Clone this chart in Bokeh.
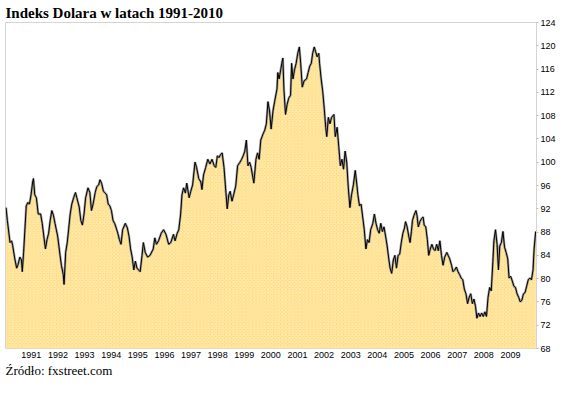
from bokeh.plotting import figure
from bokeh.models import FixedTicker, CustomJSTickFormatter, Title, Range1d
from bokeh.embed import file_html
from bokeh.resources import INLINE

# decimal year of each reading
T = [1990.55, 1990.60, 1990.70, 1990.76, 1990.80, 1990.88, 1990.95, 1991.00, 1991.07, 1991.13,
     1991.16, 1991.21, 1991.31, 1991.37, 1991.43, 1991.49, 1991.55, 1991.58, 1991.63, 1991.69,
     1991.76, 1991.85, 1991.91, 1991.97, 1992.03, 1992.09, 1992.15, 1992.21, 1992.27, 1992.33,
     1992.39, 1992.49, 1992.58, 1992.63, 1992.70, 1992.73, 1992.79, 1992.85, 1992.90, 1992.96,
     1993.02, 1993.09, 1993.16, 1993.21, 1993.30, 1993.36, 1993.42, 1993.48, 1993.54, 1993.63,
     1993.70, 1993.76, 1993.82, 1993.90, 1993.96, 1994.03, 1994.08, 1994.14, 1994.21, 1994.26,
     1994.33, 1994.39, 1994.45, 1994.51, 1994.57, 1994.63, 1994.69, 1994.75, 1994.81, 1994.87,
     1994.93, 1995.03, 1995.11, 1995.17, 1995.23, 1995.29, 1995.35, 1995.41, 1995.47, 1995.53,
     1995.59, 1995.66, 1995.71, 1995.78, 1995.87, 1995.96, 1996.08, 1996.14, 1996.20, 1996.28,
     1996.38, 1996.47, 1996.56, 1996.66, 1996.74, 1996.84, 1996.90, 1996.98, 1997.04, 1997.11,
     1997.16, 1997.22, 1997.29, 1997.34, 1997.43, 1997.49, 1997.56, 1997.65, 1997.71, 1997.79,
     1997.87, 1997.91, 1997.97, 1998.05, 1998.13, 1998.21, 1998.29, 1998.37, 1998.43, 1998.49,
     1998.55, 1998.61, 1998.67, 1998.74, 1998.79, 1998.86, 1998.92, 1998.97, 1999.04, 1999.10,
     1999.18, 1999.25, 1999.34, 1999.40, 1999.46, 1999.52, 1999.58, 1999.64, 1999.70, 1999.76,
     1999.86, 1999.94, 2000.00, 2000.06, 2000.12, 2000.21, 2000.27, 2000.33, 2000.39, 2000.45,
     2000.51, 2000.58, 2000.64, 2000.73, 2000.76, 2000.81, 2000.87, 2000.91, 2000.95, 2000.99,
     2001.05, 2001.11, 2001.17, 2001.24, 2001.28, 2001.33, 2001.39, 2001.45, 2001.51, 2001.57,
     2001.62, 2001.68, 2001.75, 2001.84, 2001.90, 2001.96, 2002.02, 2002.07, 2002.13, 2002.18,
     2002.24, 2002.30, 2002.33, 2002.39, 2002.45, 2002.51, 2002.56, 2002.60, 2002.66, 2002.72,
     2002.78, 2002.87, 2002.92, 2002.99, 2003.05, 2003.11, 2003.17, 2003.23, 2003.29, 2003.35,
     2003.41, 2003.47, 2003.53, 2003.60, 2003.67, 2003.72, 2003.77, 2003.83, 2003.89, 2003.95,
     2004.01, 2004.07, 2004.13, 2004.19, 2004.25, 2004.33, 2004.39, 2004.45, 2004.51, 2004.57,
     2004.63, 2004.69, 2004.75, 2004.81, 2004.87, 2004.93, 2004.98, 2005.04, 2005.10, 2005.16,
     2005.22, 2005.28, 2005.34, 2005.40, 2005.46, 2005.52, 2005.56, 2005.62, 2005.68, 2005.73,
     2005.78, 2005.82, 2005.88, 2005.95, 2005.99, 2006.04, 2006.10, 2006.16, 2006.22, 2006.26,
     2006.32, 2006.38, 2006.43, 2006.49, 2006.55, 2006.61, 2006.67, 2006.73, 2006.79, 2006.85,
     2006.91, 2006.97, 2007.03, 2007.11, 2007.16, 2007.22, 2007.29, 2007.34, 2007.41, 2007.47,
     2007.53, 2007.59, 2007.65, 2007.71, 2007.77, 2007.83, 2007.89, 2007.95, 2008.01, 2008.07,
     2008.13, 2008.19, 2008.24, 2008.30, 2008.36, 2008.42, 2008.48, 2008.54, 2008.60, 2008.66,
     2008.72, 2008.78, 2008.84, 2008.88, 2008.94, 2009.00, 2009.05, 2009.10, 2009.16, 2009.22,
     2009.28, 2009.34, 2009.40, 2009.45, 2009.51, 2009.57, 2009.63, 2009.69, 2009.75, 2009.81,
     2009.87, 2009.93, 2009.99, 2010.05, 2010.11, 2010.17, 2010.23, 2010.29, 2010.35, 2010.39,
     2010.45]

# index value
V = [92.2, 90.0, 86.2, 86.5, 85.7, 83.4, 81.8, 82.4, 83.7, 83.2,
     81.2, 84.5, 92.5, 93.1, 92.8, 94.4, 96.6, 97.2, 94.4, 93.9,
     91.1, 91.1, 89.5, 87.3, 85.1, 86.7, 87.8, 90.0, 91.7, 90.9,
     89.5, 87.3, 84.0, 82.3, 80.7, 79.0, 84.5, 86.2, 88.4, 91.1,
     92.8, 93.9, 94.8, 93.9, 92.3, 90.0, 89.2, 91.1, 93.9, 95.6,
     94.8, 91.7, 92.8, 94.8, 95.8, 96.1, 97.0, 96.4, 95.0, 94.8,
     94.4, 92.8, 92.5, 91.7, 90.0, 89.5, 88.7, 87.8, 86.7, 85.9,
     88.4, 89.5, 88.7, 87.3, 85.1, 83.7, 81.5, 83.0, 81.8, 81.5,
     81.2, 84.0, 86.2, 84.5, 83.7, 84.0, 85.1, 87.0, 85.9, 86.5,
     87.8, 88.4, 87.6, 85.9, 86.2, 87.6, 86.5, 87.8, 88.4, 91.1,
     94.4, 95.6, 94.7, 96.4, 93.9, 95.0, 96.1, 100.0, 99.1, 97.2,
     96.6, 95.3, 97.8, 99.1, 100.5, 99.7, 100.5, 99.4, 99.1, 101.1,
     100.8, 101.3, 101.6, 99.1, 96.1, 92.0, 94.4, 95.0, 93.3, 94.4,
     95.9, 99.4, 100.0, 100.5, 101.1, 101.9, 103.8, 99.4, 100.0, 99.1,
     96.4, 100.5, 101.6, 100.5, 103.8, 104.9, 105.5, 106.6, 110.4, 108.8,
     105.7, 108.8, 110.4, 112.6, 115.4, 114.3, 115.9, 117.0, 117.9, 112.6,
     108.2, 109.9, 111.0, 111.5, 117.0, 114.3, 115.9, 117.0, 118.7, 119.8,
     117.0, 112.9, 114.0, 114.3, 115.4, 116.5, 117.0, 118.7, 119.8, 119.0,
     118.1, 118.7, 117.0, 114.3, 112.1, 109.0, 106.0, 104.4, 107.7, 106.6,
     107.7, 108.2, 104.4, 106.0, 102.7, 99.4, 100.5, 98.8, 101.9, 100.0,
     95.6, 92.2, 94.4, 96.1, 98.6, 96.6, 94.4, 92.5, 92.8, 90.6,
     88.4, 85.1, 86.7, 86.2, 88.4, 89.5, 91.1, 89.5, 88.4, 87.8,
     89.5, 88.1, 88.9, 87.3, 85.6, 83.4, 81.8, 80.9, 83.2, 84.0,
     81.8, 84.0, 84.2, 86.2, 87.8, 88.7, 89.8, 88.9, 87.3, 86.2,
     88.1, 90.0, 90.9, 91.7, 90.9, 88.9, 89.8, 90.3, 90.6, 89.2,
     88.9, 86.7, 84.0, 85.1, 85.9, 85.1, 84.8, 85.9, 84.8, 86.5,
     84.0, 82.3, 83.7, 84.5, 84.0, 83.4, 82.3, 81.2, 81.5, 82.0,
     81.2, 80.7, 80.1, 79.8, 78.2, 77.4, 75.7, 76.8, 77.4, 75.7,
     76.5, 75.2, 73.2, 74.1, 73.5, 74.1, 73.5, 74.3, 73.5, 76.8,
     78.5, 77.9, 82.9, 86.5, 88.4, 85.9, 81.5, 85.6, 86.2, 88.1,
     85.4, 84.5, 83.4, 80.1, 80.4, 79.6, 78.7, 78.5, 77.4, 76.8,
     76.0, 76.3, 77.4, 77.6, 78.7, 79.8, 80.1, 79.8, 81.5, 85.1,
     88.1]

YEARS = list(range(1991, 2010))          # x tick labels (centred on each year)
Y_TICKS = list(range(68, 125, 4))        # right axis ticks
Y_MIN, Y_MAX = 68, 124
X_MIN, X_MAX = 1990.53, 2010.48

p = figure(width=558, height=377, output_backend="svg", toolbar_location=None,
           y_axis_location="right",
           x_range=Range1d(X_MIN, X_MAX), y_range=Range1d(Y_MIN, Y_MAX),
           min_border_left=5, min_border_right=0, min_border_top=0, min_border_bottom=0)

p.title.text = "Indeks Dolara w latach 1991-2010"
p.title.text_font = "Liberation Serif"
p.title.text_font_size = "15px"
p.title.text_font_style = "bold"
p.title.text_color = "#000000"
p.title.align = "left"
p.title.standoff = 4

p.background_fill_color = "white"
p.border_fill_color = "white"
p.outline_line_color = "#d4d4d4"
p.grid.visible = False

p.varea(x=T, y1=Y_MIN, y2=V, fill_color="#FFD975",
        hatch_pattern="diagonal_cross", hatch_color="#FFEEBB",
        hatch_scale=3.5, hatch_weight=1)
p.line(T, V, line_color="#8a8a8a", line_width=2.4, line_alpha=0.8)
p.line(T, V, line_color="#000000", line_width=1)

xa = p.xaxis[0]
xa.ticker = FixedTicker(ticks=[y + 0.5 for y in YEARS])
xa.formatter = CustomJSTickFormatter(code="return String(Math.floor(tick));")
xa.axis_line_color = None
xa.major_tick_line_color = None
xa.minor_tick_line_color = None
xa.major_tick_out = 0
xa.major_tick_in = 0
xa.major_label_text_font = "Liberation Sans"
xa.major_label_text_font_size = "9px"
xa.major_label_text_color = "#000000"
xa.major_label_standoff = 3

ya = p.yaxis[0]
ya.ticker = FixedTicker(ticks=Y_TICKS)
ya.axis_line_color = "#d4d4d4"
ya.major_tick_line_color = "#bdbdbd"
ya.major_tick_in = 0
ya.major_tick_out = 2
ya.minor_tick_line_color = None
ya.major_label_text_font = "Liberation Sans"
ya.major_label_text_font_size = "9px"
ya.major_label_text_color = "#000000"
ya.major_label_standoff = 2

src = Title(text="Źródło: fxstreet.com", align="left", text_font="Liberation Serif",
            text_font_size="13px", text_font_style="normal", text_color="#000000",
            standoff=0, text_line_height=1.0)
p.add_layout(src, "below")

open("out.html", "w").write(file_html(p, INLINE))
